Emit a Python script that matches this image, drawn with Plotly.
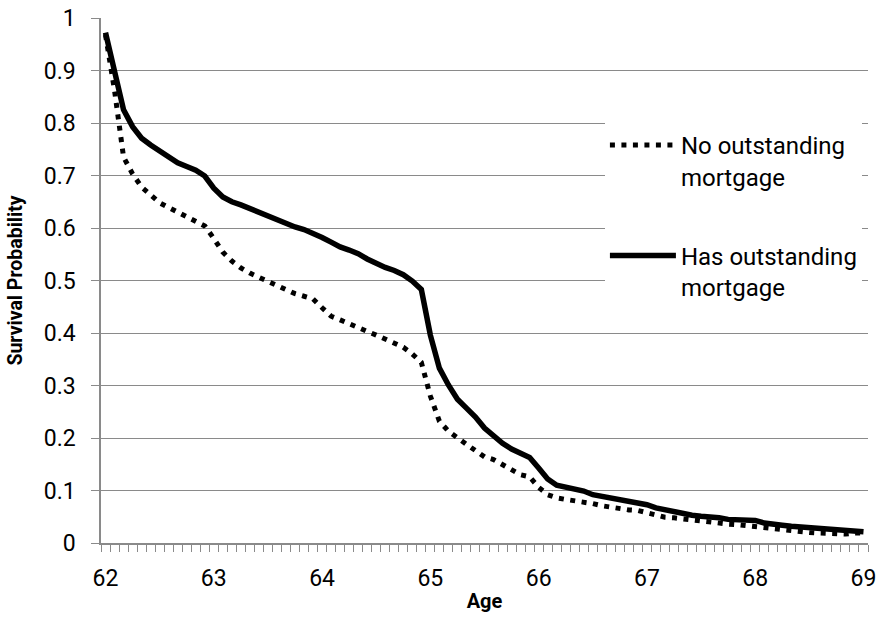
import plotly.graph_objects as go

# monthly observations, age 62 through 69
ages = [62 + k / 12 for k in range(85)]

no_mortgage = [
    0.968, 0.862, 0.735, 0.703, 0.678, 0.662, 0.648, 0.639, 0.630, 0.621,
    0.614, 0.604, 0.580, 0.554, 0.537, 0.524, 0.514, 0.506, 0.497, 0.490,
    0.482, 0.475, 0.470, 0.465, 0.448, 0.432, 0.425, 0.417, 0.410, 0.403,
    0.396, 0.389, 0.382, 0.373, 0.360, 0.344, 0.280, 0.232, 0.213, 0.199,
    0.188, 0.176, 0.164, 0.159, 0.149, 0.138, 0.130, 0.126, 0.106, 0.092,
    0.086, 0.083, 0.081, 0.078, 0.075, 0.071, 0.068, 0.065, 0.063, 0.062,
    0.058, 0.052, 0.049, 0.048, 0.046, 0.044, 0.041, 0.038, 0.036, 0.036,
    0.035, 0.033, 0.031, 0.029, 0.026, 0.025, 0.024, 0.022, 0.020, 0.019,
    0.018, 0.018, 0.017, 0.019, 0.019,
]

has_mortgage = [
    0.972, 0.900, 0.825, 0.793, 0.771, 0.758, 0.747, 0.735, 0.724, 0.717,
    0.710, 0.699, 0.676, 0.659, 0.650, 0.644, 0.637, 0.629, 0.622, 0.614,
    0.607, 0.602, 0.597, 0.590, 0.582, 0.573, 0.564, 0.558, 0.551, 0.541,
    0.532, 0.525, 0.519, 0.511, 0.499, 0.483, 0.396, 0.333, 0.301, 0.274,
    0.257, 0.240, 0.219, 0.204, 0.190, 0.179, 0.170, 0.163, 0.143, 0.122,
    0.110, 0.107, 0.103, 0.099, 0.092, 0.089, 0.086, 0.084, 0.081, 0.078,
    0.073, 0.067, 0.063, 0.059, 0.057, 0.053, 0.051, 0.050, 0.048, 0.045,
    0.044, 0.044, 0.043, 0.038, 0.035, 0.034, 0.032, 0.031, 0.030, 0.029,
    0.028, 0.027, 0.025, 0.023, 0.0215,
]

grey = '#8a8a8a'
font_family = 'Roboto, Arial, sans-serif'

fig = go.Figure()

fig.add_trace(go.Scatter(
    x=ages, y=no_mortgage,
    mode='lines',
    line=dict(color='black', width=5, dash='5px,6.5px'),
    name='No outstanding<br>mortgage',
    legendgroup='a'
))

fig.add_trace(go.Scatter(
    x=ages, y=has_mortgage,
    mode='lines',
    line=dict(color='black', width=5.5),
    name='Has outstanding<br>mortgage',
    legendgroup='b'
))

fig.update_layout(
    width=879,
    height=618,
    margin=dict(l=101, r=11, t=18, b=75),
    paper_bgcolor='white',
    plot_bgcolor='white',
    font=dict(family=font_family, size=23, color='black'),
    legend=dict(
        x=0.657, y=0.80,
        xanchor='left', yanchor='top',
        bgcolor='white',
        font=dict(size=24),
        itemwidth=66,
        valign='top',
        tracegroupgap=45
    ),
    xaxis=dict(
        range=[62 - 1 / 24, 69 + 1 / 24],
        tick0=62, dtick=1,
        ticks='',
        ticklabelstandoff=14,
        showgrid=False,
        showline=True, linecolor=grey, linewidth=1.5,
        zeroline=False,
        automargin=False,
        minor=dict(tick0=62 - 1 / 24, dtick=1 / 12, ticks='outside',
                   ticklen=7, tickcolor=grey, tickwidth=1.3),
        title=dict(text='<b>Age</b>', font=dict(size=20), standoff=3),
        fixedrange=True
    ),
    yaxis=dict(
        range=[0, 1],
        dtick=0.1,
        ticks='outside', ticklen=8, tickcolor=grey, tickwidth=1.3,
        ticklabelstandoff=11,
        showgrid=True, gridcolor=grey, gridwidth=1.3,
        showline=True, linecolor=grey, linewidth=1.5,
        zeroline=False,
        automargin=False,
        title=dict(text='<b>Survival Probability</b>', font=dict(size=19.5),
                   standoff=16),
        fixedrange=True
    ),
)

# drop the page's default body margin so the chart fills the window
fig.write_html("out.html",
               config={'displayModeBar': False},
               post_script="document.body.style.margin='0px';"
                           "document.body.style.overflow='hidden';")
